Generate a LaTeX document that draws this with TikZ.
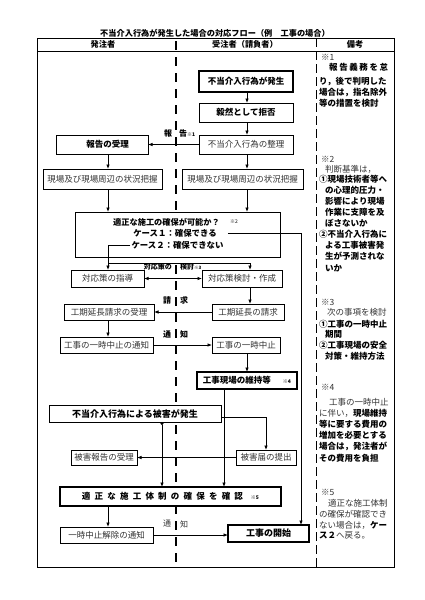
\documentclass[tikz,border=0pt]{standalone}
\usepackage{fontspec}
\setmainfont{Noto Sans CJK JP}
\usetikzlibrary{arrows.meta}
\newcommand\fsz[1]{\fontsize{#1}{#1}\selectfont}
\newcommand\mybox[7]{\node[#6, minimum width={(#4-#2)*1pt}, minimum height={(#5-#3)*1pt}] (#1) at ({(#2+#4)/2},{(#3+#5)/2}) {#7};}
\begin{document}
\begin{tikzpicture}[x=1pt,y=-1pt,
  box/.style={draw, line width=0.7pt, fill=white, inner sep=0pt, outer sep=0pt, font=\fsz{8.5}},
  tbox/.style={box, line width=1.5pt},
  light/.style={text=black!80},
  arr/.style={-{Latex[length=4.5pt,width=3.6pt]}, line width=0.8pt},
  darr/.style={{Latex[length=4.5pt,width=3.6pt]}-{Latex[length=4.5pt,width=3.6pt]}, line width=0.8pt},
  dotarr/.style={{Circle[length=3pt]}-{Latex[length=4.5pt,width=3.6pt]}, line width=0.8pt},
  lab/.style={inner sep=0pt, font=\fsz{8}\bfseries},
  note/.style={anchor=west, inner sep=0pt, font=\fsz{8.5}},
  nb/.style={note, font=\fsz{8.5}\bfseries},
  nl/.style={note, text=black!80},
]
\useasboundingbox (0,0) rectangle (424,600);
\fill[white] (0,0) rectangle (424,600);

% title and table
\node[inner sep=0pt, font=\fsz{8.2}\bfseries] (title) at (215,33) {不当介入行為が発生した場合の対応フロー（例　工事の場合）};
\draw[line width=0.8pt] (37,38) rectangle (394,567);
\draw[line width=0.8pt] (37,51) -- (394,51);
\draw[line width=1.8pt, dash pattern=on 9pt off 7pt] (176,41) -- (176,565);
\draw[line width=0.5pt, dash pattern=on 9pt off 4pt] (316,38) -- (316,567);
\node[lab, font=\fsz{8.2}\bfseries] (h1) at (103,44.5) {発注者};
\node[lab, font=\fsz{8.2}\bfseries] (h2) at (245,44.5) {受注者（請負者）};
\node[lab, font=\fsz{8.2}\bfseries] (h3) at (355,44.5) {備考};

% boxes
\mybox{n1}{199}{71}{293}{92}{tbox}{\bfseries 不当介入行為が発生}
\mybox{n2}{199}{103}{293}{122}{box}{\bfseries 毅然として拒否}
\mybox{n3}{199}{135}{293}{154}{box,light}{不当介入行為の整理}
\mybox{n4}{56}{135}{148}{154}{box}{\hspace*{11pt}\bfseries 報告の受理}
\mybox{n5}{43}{169}{162}{189}{box,light}{現場及び現場周辺の状況把握}
\mybox{n6}{182}{169}{303}{189}{box,light}{現場及び現場周辺の状況把握}
\mybox{n7}{75}{212}{280}{257}{box}{}
\node[lab, font=\fsz{8.2}\bfseries] (q) at (166.5,222) {適正な施工の確保が可能か？};
\node[inner sep=0pt, font=\fsz{5}, anchor=west] (q2) at (230,222) {※2};
\node[lab, font=\fsz{8.4}\bfseries] (c1) at (175,233) {ケース１：確保できる};
\node[lab, font=\fsz{8.4}\bfseries] (c2) at (177.5,245) {ケース２：確保できない};
\mybox{n8}{71}{270}{144}{287}{box,light}{対応策の指導}
\mybox{n9}{202}{270}{282}{287}{box,light}{対応策検討・作成}
\mybox{n10}{212}{304}{284}{320}{box,light}{工期延長の請求}
\mybox{n11}{64}{304}{154}{320}{box,light}{工期延長請求の受理}
\mybox{n12}{60}{337}{153}{353}{box,light}{工事の一時中止の通知}
\mybox{n13}{212}{337}{280}{353}{box,light}{工事の一時中止}
\mybox{n14}{197}{372}{297}{389}{tbox}{\bfseries 工事現場の維持等\hspace{12pt}{\fsz{5}※4}}
\mybox{n15}{49}{405}{221}{422}{box}{\fsz{9}\bfseries 不当介入行為による被害が発生}
\mybox{n16}{236}{450}{296}{465}{box,light}{被害届の提出}
\mybox{n17}{71}{450}{137}{465}{box,light}{被害報告の受理}
\mybox{n18}{60}{487}{281}{506}{tbox}{\bfseries\makebox[161pt][s]{適\hfil 正\hfil な\hfil 施\hfil 工\hfil 体\hfil 制\hfil の\hfil 確\hfil 保\hfil を\hfil 確\hfil 認}\hspace{8pt}{\fsz{5}※5}}
\mybox{n19}{60}{527}{153}{543}{box,light}{一時中止解除の通知}
\mybox{n20}{228}{525}{309}{542}{tbox}{\fsz{9}\bfseries 工事の開始}

% helper coordinates
\coordinate (L) at (108,0);
\coordinate (C) at (247,0);
\coordinate (R) at (250,0);
\coordinate (K) at (301,0);
\coordinate (M) at (224,0);
\coordinate (Q) at (162,0);
\coordinate (P) at (0,417);
\coordinate (B) at (0,263);

% connectors
\draw[arr] (n1.south -| C) -- (n2.north -| C);
\draw[arr] (n2.south -| C) -- (n3.north -| C);
\draw[arr] (n3.west) -- (n4.east);
\draw[arr] (n3.south -| C) -- (n6.north -| C);
\draw[arr] (n4.south -| L) -- (n5.north -| L);
\draw[arr] (n5.south -| L) -- (n7.north -| L);
\draw[arr] (n6.south -| C) -- (n7.north -| C);
\draw[arr] ([xshift=11pt]c1.east) -| (n20.north -| K);
\draw[arr] ([xshift=-1pt]c2.west) -| (n8.north -| L);
\draw[arr] (B -| L) -| (n9.north -| R);
\draw[darr] (n8.east) -- (n9.west);
\draw[arr] (n9.south -| R) -- (n10.north -| R);
\draw[arr] (n10.west) -- (n11.east);
\draw[arr] (n11.south -| L) -- (n12.north -| L);
\draw[arr] (n12.east) -- (n13.west);
\draw[arr] (n13.south -| C) -- (n14.north -| C);
\draw[arr] (n14.south -| M) -- (n18.north -| M);
\draw[arr] (n15.east |- P) -| (n16.north);
\draw[dotarr] (n15.south -| Q) -- (n18.north -| Q);
\draw[arr] (n16.west) -- (n17.east);
\draw[arr] (n18.south -| L) -- (n19.north -| L);
\draw[arr] (n19.east) -- (n20.west |- n19.east);

% connector labels
\node[lab] (a1) at (168,133) {報};
\node[lab, anchor=west] (a2) at (179,133) {告{\fsz{5}※1}};
\node[lab, font=\fsz{7}\bfseries, anchor=east] (f1) at (172,267) {対応策の};
\node[lab, font=\fsz{7}\bfseries, anchor=west] (f2) at (180,267) {検討{\fsz{4.5}※3}};
\node[lab] (b1) at (167,300) {請};
\node[lab] (b2) at (184,300) {求};
\node[lab] (d1) at (167,334) {通};
\node[lab] (d2) at (184,334) {知};
\node[lab, font=\fsz{8}, light] (e1) at (167,524) {通};
\node[lab, font=\fsz{8}, light] (e2) at (184,524) {知};

% notes column
\node[nl] (r1) at (321,57) {※1};
\node[nb] (r2) at (329,67) {\makebox[59pt][s]{報\hfil 告\hfil 義\hfil 務\hfil を\hfil 怠}};
\node[nb] (r3) at (319,81) {り，後で判明した};
\node[nb] (r4) at (319,92) {場合は，指名除外};
\node[nb] (r5) at (319,103) {等の措置を検討};
\node[nl] (s1) at (321,159) {※2};
\node[nl] (s2) at (325,169) {判断基準は，};
\node[nb] (s3) at (319,179) {①現場技術者等へ};
\node[nb] (s4) at (325,190) {の心理的圧力・};
\node[nb] (s5) at (325,201) {影響により現場};
\node[nb] (s6) at (325,212) {作業に支障を及};
\node[nb] (s7) at (325,223) {ぼさないか};
\node[nb] (s8) at (319,234) {②不当介入行為に};
\node[nb] (s9) at (325,245) {よる工事被害発};
\node[nb] (s10) at (325,256) {生が予測されな};
\node[nb] (s11) at (325,268) {いか};
\node[nl] (t1) at (321,302) {※3};
\node[nl] (t2) at (327,312) {次の事項を検討};
\node[nb] (t3) at (319,324) {①工事の一時中止};
\node[nb] (t4) at (325,334) {期間};
\node[nb] (t5) at (319,345) {②工事現場の安全};
\node[nb] (t6) at (325,356) {対策・維持方法};
\node[nl] (u1) at (321,387) {※4};
\node[nl] (u2) at (329,402) {工事の一時中止};
\node[nl] (u3) at (319,413) {に伴い，{\bfseries\color{black}現場維持}};
\node[nb] (u4) at (319,424) {等に要する費用の};
\node[nb] (u5) at (319,435) {増加を必要とする};
\node[nb] (u6) at (319,446) {場合は，発注者が};
\node[nb] (u7) at (319,458) {その費用を負担};
\node[nl] (v1) at (321,492) {※5};
\node[nl] (v2) at (328,503) {適正な施工体制};
\node[nl] (v3) at (319,514) {の確保が確認でき};
\node[nl] (v4) at (319,525) {ない場合は，{\bfseries\color{black}ケー}};
\node[nl] (v5) at (319,536) {{\bfseries\color{black}ス２}へ戻る。};
\end{tikzpicture}
\end{document}
